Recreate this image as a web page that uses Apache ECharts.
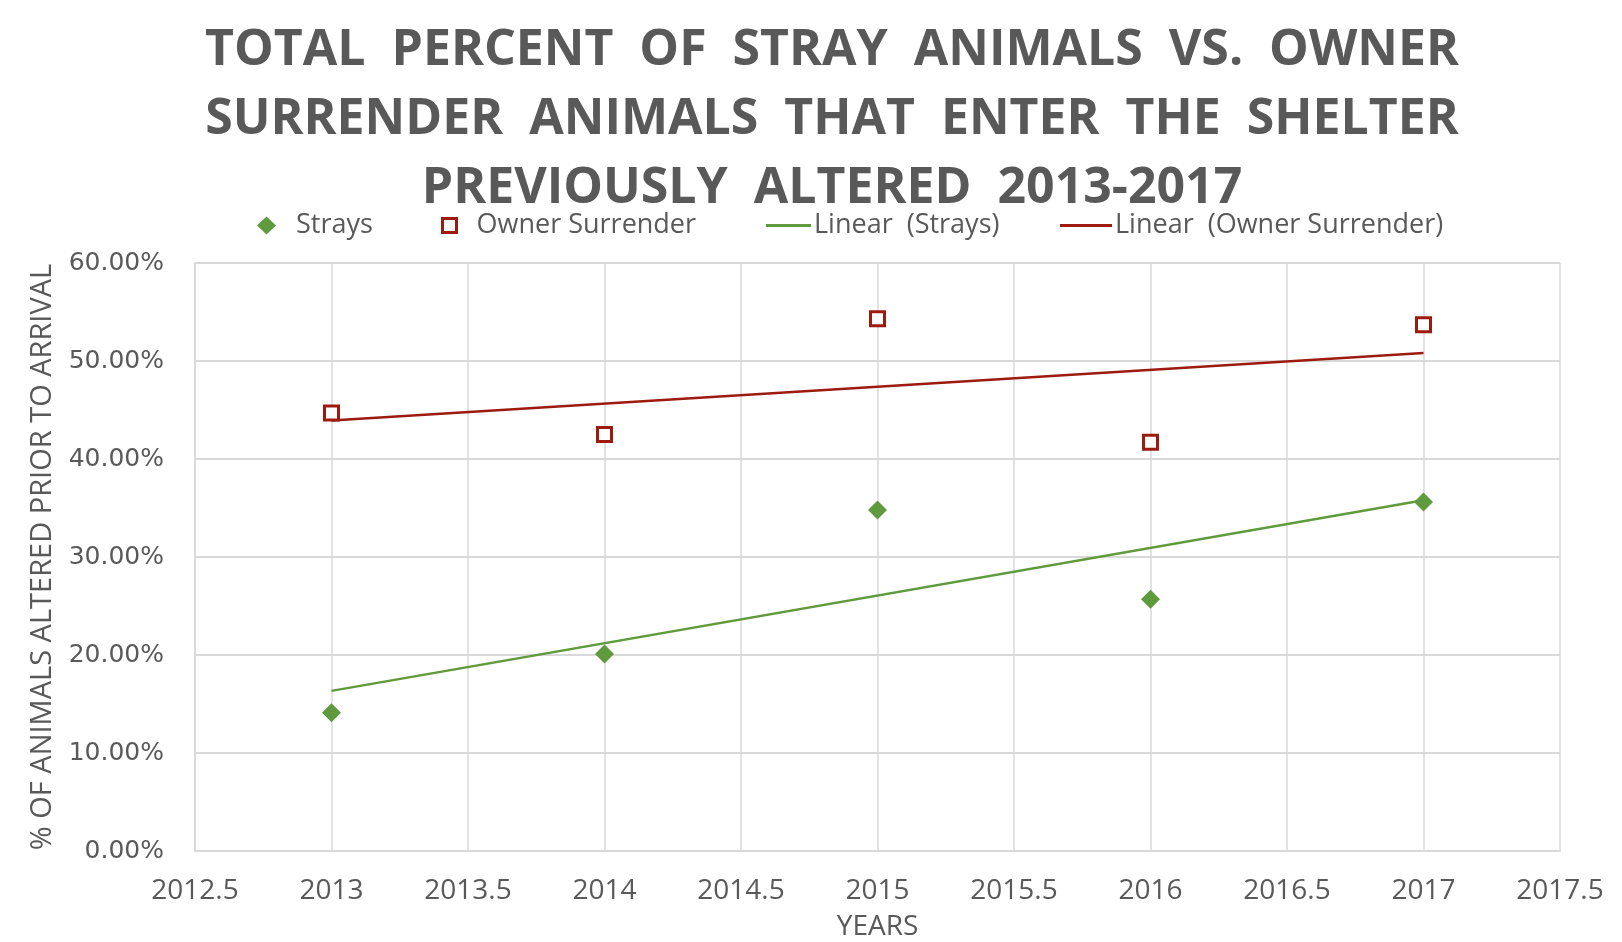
<!DOCTYPE html>
<html>
<head>
<meta charset="utf-8">
<script src="https://cdn.jsdelivr.net/npm/echarts@6/dist/echarts.min.js"></script>
<style>
  html, body { margin: 0; padding: 0; background: #fff; }
  #chart { width: 1622px; height: 942px; }
</style>
</head>
<body>
<div id="chart"></div>
<script>
// Values (percent of animals altered before arrival)
var years = [2013, 2014, 2015, 2016, 2017];
var strays = [14.1, 20.1, 34.8, 25.7, 35.6];
var ownerSurrender = [44.7, 42.5, 54.3, 41.7, 53.7];

var titleLines = [
	'TOTAL  PERCENT  OF  STRAY  ANIMALS  VS.  OWNER',
	'SURRENDER  ANIMALS  THAT  ENTER  THE  SHELTER',
	'PREVIOUSLY  ALTERED  2013-2017'
];

var GREEN = '#5f9a3c';
var RED = '#9c1a0e';
var GREY = '#595959';

function pairs(xs, ys) {
	var out = [];
	for (var i = 0; i < xs.length; i++) out.push([xs[i], ys[i]]);
	return out;
}

// least squares trend line, the same thing Excel's "Linear" trendline draws
function trend(xs, ys) {
	var n = xs.length, sx = 0, sy = 0, sxy = 0, sxx = 0;
	for (var i = 0; i < n; i++) {
		sx += xs[i]; sy += ys[i];
		sxy += xs[i] * ys[i]; sxx += xs[i] * xs[i];
	}
	var b = (n * sxy - sx * sy) / (n * sxx - sx * sx);
	var a = (sy - b * sx) / n;
	var first = xs[0], last = xs[n - 1];
	return [[first, a + b * first], [last, a + b * last]];
}

var chart = echarts.init(document.getElementById('chart'));

var legendText = { color: GREY, fontFamily: 'Open Sans', fontSize: 27 };

function oneLegend(name, left, icon, w, h, pad, style) {
	var item = { name: name, icon: icon };
	if (style) item.itemStyle = style;
	return {
		data: [item],
		left: left,
		top: 207,
		itemWidth: w,
		itemHeight: h,
		textStyle: Object.assign({ padding: [0, 0, 0, pad] }, legendText)
	};
}

chart.setOption({
	animation: false,
	graphic: [{
		type: 'text',
		x: 832,
		y: 120,
		style: {
			text: titleLines.join('\n'),
			textAlign: 'center',
			textVerticalAlign: 'middle',
			fill: GREY,
			fontFamily: 'Open Sans',
			fontWeight: 'bold',
			fontSize: 50,
			lineHeight: 69
		}
	}],
	legend: [
		oneLegend('Strays', 252, 'diamond', 19, 18, 15),
		oneLegend('Owner Surrender', 436, 'rect', 14, 14, 15,
			{ color: '#fff', borderColor: RED, borderWidth: 3 }),
		oneLegend('Linear  (Strays)', 761, 'rect', 45, 3, -2,
			{ color: GREEN, borderWidth: 0 }),
		oneLegend('Linear  (Owner Surrender)', 1055, 'rect', 52, 3, -2,
			{ color: RED, borderWidth: 0 })
	],
	grid: { left: 195, right: 62, top: 263, bottom: 91, outerBoundsMode: 'none' },
	xAxis: {
		type: 'value',
		min: 2012.5,
		max: 2017.5,
		interval: 0.5,
		name: 'YEARS',
		nameLocation: 'middle',
		nameGap: 62,
		nameTextStyle: { color: GREY, fontFamily: 'Open Sans', fontSize: 28 },
		axisLine: { show: true, lineStyle: { color: '#d9d9d9', width: 2 } },
		axisTick: { show: false },
		axisLabel: {
			color: GREY, fontFamily: 'Open Sans', fontSize: 28, margin: 26,
			formatter: function (v) { return String(v); }
		},
		splitLine: { show: true, lineStyle: { color: '#d9d9d9', width: 1.5 } }
	},
	yAxis: {
		type: 'value',
		min: 0,
		max: 60,
		interval: 10,
		name: '% OF ANIMALS ALTERED PRIOR TO ARRIVAL',
		nameLocation: 'middle',
		nameGap: 138,
		nameTextStyle: { color: GREY, fontFamily: 'Open Sans', fontSize: 29 },
		axisLine: { show: true, lineStyle: { color: '#d9d9d9', width: 2 } },
		axisTick: { show: false },
		axisLabel: {
			color: GREY, fontFamily: 'DejaVu Sans', fontSize: 25, margin: 31,
			formatter: function (v) { return v.toFixed(2) + '%'; }
		},
		splitLine: { show: true, lineStyle: { color: '#d9d9d9', width: 2 } }
	},
	series: [
		{
			name: 'Strays',
			type: 'scatter',
			symbol: 'diamond',
			symbolSize: [19, 19],
			itemStyle: { color: GREEN, opacity: 1 },
			data: pairs(years, strays),
			z: 3
		},
		{
			name: 'Owner Surrender',
			type: 'scatter',
			symbol: 'rect',
			symbolSize: [14, 14],
			itemStyle: { color: '#fff', borderColor: RED, borderWidth: 3, opacity: 1 },
			data: pairs(years, ownerSurrender),
			z: 3
		},
		{
			name: 'Linear  (Strays)',
			type: 'line',
			symbol: 'none',
			lineStyle: { color: GREEN, width: 2.5 },
			itemStyle: { color: GREEN },
			data: trend(years, strays)
		},
		{
			name: 'Linear  (Owner Surrender)',
			type: 'line',
			symbol: 'none',
			lineStyle: { color: RED, width: 2.5 },
			itemStyle: { color: RED },
			data: trend(years, ownerSurrender)
		}
	]
});
</script>
</body>
</html>
